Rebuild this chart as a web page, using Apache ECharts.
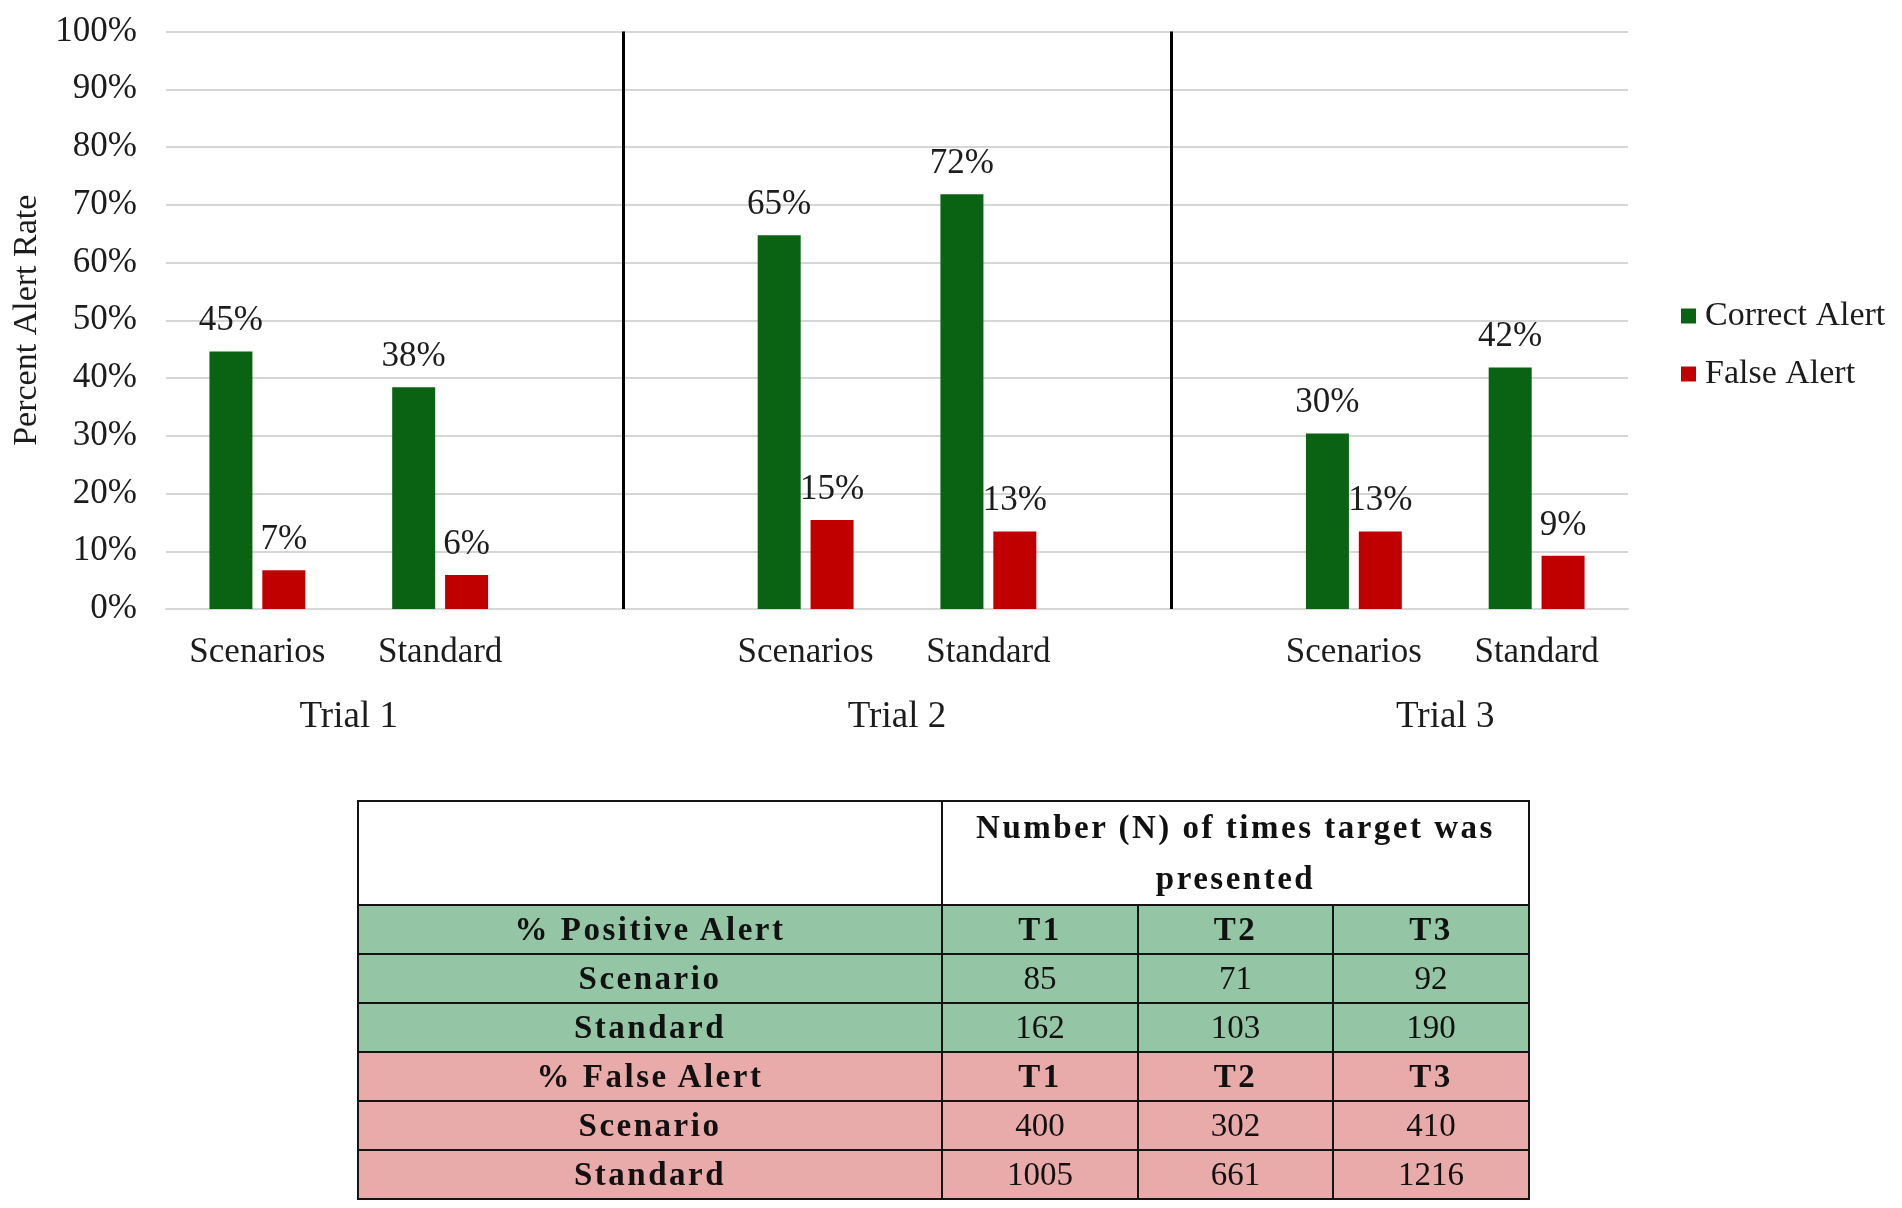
<!DOCTYPE html>
<html>
<head>
<meta charset="utf-8">
<script src="https://cdn.jsdelivr.net/npm/echarts@6/dist/echarts.min.js"></script>
<style>
  html, body { margin: 0; padding: 0; background: #fff; }
  #chart { position: absolute; left: 0; top: 0; width: 1902px; height: 1208px; }
  #tbl {
    position: absolute; left: 357px; top: 800px; width: 1171px;
    border-collapse: collapse; table-layout: fixed;
    font-family: 'Liberation Serif', 'Times New Roman', serif; font-size: 33px; color: #111;
  }
  #tbl td { border: 2px solid #141414; text-align: center; vertical-align: middle; padding: 0; height: 47px; line-height: 47px; }
  #tbl td.b { font-weight: bold; letter-spacing: 2.5px; }
  #tbl tr.head td { height: 95px; line-height: 51px; }
  #tbl tr.pos td { background: #94C5A5; }
  #tbl tr.neg td { background: #E9AAAA; }
  #tbl tr.head td { background: #fff; }
</style>
</head>
<body>
<div id="chart"></div>
<table id="tbl"></table>
<script>
// ---- chart data ----
const categories = ['Scenarios', 'Standard', '', 'Scenarios', 'Standard', '', 'Scenarios', 'Standard'];
const trialLabels = ['', 'Trial 1', '', '', 'Trial 2', '', '', 'Trial 3', ''];
const correctAlert = [44.6, 38.4, null, 64.7, 71.8, null, 30.4, 41.8];
const falseAlert = [6.7, 5.9, null, 15.4, 13.4, null, 13.4, 9.2];
const dividerIndices = [2, 5];
const seriesNames = ['Correct Alert', 'False Alert'];

// ---- table data ----
const tableHeader = 'Number (N) of times target was presented';
const trialCols = ['T1', 'T2', 'T3'];
const positiveTitle = '% Positive Alert';
const falseTitle = '% False Alert';
const rowLabels = ['Scenario', 'Standard'];
const positiveScenario = [85, 71, 92];
const positiveStandard = [162, 103, 190];
const falseScenario = [400, 302, 410];
const falseStandard = [1005, 661, 1216];

const FONT = "'Liberation Serif', 'Times New Roman', serif";
const TXT = '#1c1c1c';

const chart = echarts.init(document.getElementById('chart'), null, { renderer: 'canvas' });

const labelCfg = {
  show: true, position: 'top', distance: 13,
  fontFamily: FONT, fontSize: 35, color: TXT,
  formatter: p => Math.round(p.value) + '%'
};

chart.setOption({
  animation: false,
  backgroundColor: '#fff',
  grid: { left: 166, right: 274, top: 31.5, bottom: 599, containLabel: false },
  legend: {
    orient: 'vertical', left: 1676, top: 294,
    itemWidth: 15, itemHeight: 15, itemGap: 24, icon: 'rect',
    textStyle: { fontFamily: FONT, fontSize: 34, color: TXT, padding: [0, 0, 0, 4] },
    data: seriesNames
  },
  xAxis: [
    {
      type: 'category', data: categories,
      axisLine: { show: true, lineStyle: { color: '#d6d6d6', width: 2 } },
      axisTick: { show: false },
      axisLabel: { interval: 0, margin: 26, fontFamily: FONT, fontSize: 35, color: TXT }
    },
    {
      type: 'category', data: trialLabels, boundaryGap: false, position: 'bottom', offset: 82,
      axisLine: { show: false }, axisTick: { show: false }, splitLine: { show: false },
      axisLabel: { interval: 0, margin: 8, fontFamily: FONT, fontSize: 37, color: TXT }
    }
  ],
  yAxis: {
    type: 'value', min: 0, max: 100, interval: 10,
    name: 'Percent Alert Rate', nameLocation: 'middle', nameGap: 122,
    nameTextStyle: { fontFamily: FONT, fontSize: 34, color: TXT },
    axisLine: { show: false }, axisTick: { show: false },
    axisLabel: { margin: 29, fontFamily: FONT, fontSize: 35, color: TXT, formatter: '{value}%' },
    splitLine: { show: true, lineStyle: { color: '#d6d6d6', width: 2 } }
  },
  series: [
    {
      name: seriesNames[0], type: 'bar', data: correctAlert,
      barWidth: 43, barGap: '23%',
      itemStyle: { color: '#0A6312' },
      label: labelCfg
    },
    {
      name: seriesNames[1], type: 'bar', data: falseAlert,
      barWidth: 43, barGap: '23%',
      itemStyle: { color: '#C00000' },
      label: labelCfg
    },
    {
      name: 'dividers', type: 'line', data: [], silent: true,
      markLine: {
        silent: true, symbol: ['none', 'none'], label: { show: false },
        lineStyle: { color: '#000', width: 3, type: 'solid' },
        data: dividerIndices.map(i => [{ coord: [i, 0] }, { coord: [i, 100] }])
      }
    }
  ]
});

// ---- build table ----
const tbl = document.getElementById('tbl');
function addRow(cls, cells) {
  const tr = document.createElement('tr');
  tr.className = cls;
  cells.forEach(c => {
    const td = document.createElement('td');
    td.textContent = c.t;
    if (c.b) td.className = 'b';
    if (c.span) td.colSpan = c.span;
    tr.appendChild(td);
  });
  tbl.appendChild(tr);
}
const cg = document.createElement('colgroup');
[584, 196, 195, 196].forEach(w => { const c = document.createElement('col'); c.style.width = w + 'px'; cg.appendChild(c); });
tbl.appendChild(cg);
addRow('head', [{ t: '' }, { t: tableHeader, b: true, span: 3 }]);
addRow('pos', [{ t: positiveTitle, b: true }].concat(trialCols.map(t => ({ t, b: true }))));
addRow('pos', [{ t: rowLabels[0], b: true }].concat(positiveScenario.map(v => ({ t: String(v) }))));
addRow('pos', [{ t: rowLabels[1], b: true }].concat(positiveStandard.map(v => ({ t: String(v) }))));
addRow('neg', [{ t: falseTitle, b: true }].concat(trialCols.map(t => ({ t, b: true }))));
addRow('neg', [{ t: rowLabels[0], b: true }].concat(falseScenario.map(v => ({ t: String(v) }))));
addRow('neg', [{ t: rowLabels[1], b: true }].concat(falseStandard.map(v => ({ t: String(v) }))));
</script>
</body>
</html>
